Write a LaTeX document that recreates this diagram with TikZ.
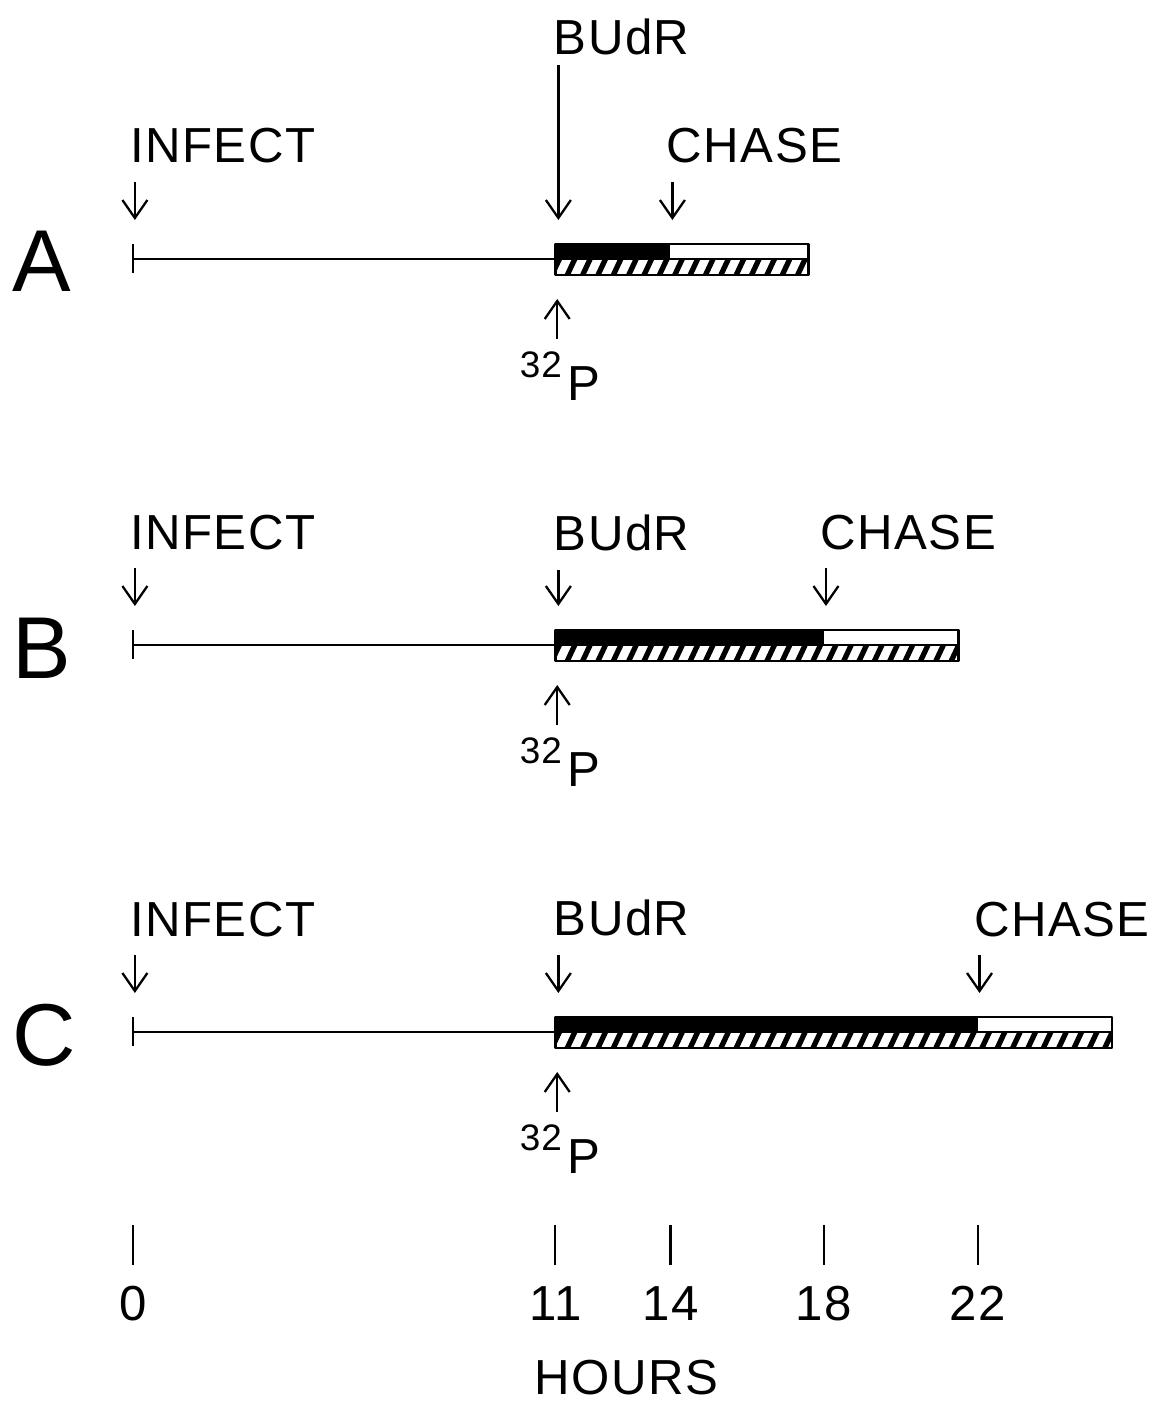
\documentclass[tikz,border=0pt]{standalone}
\usepackage{fontspec}
\setmainfont{Liberation Sans}
\newfontfamily\lettering[LetterSpace=3]{Liberation Sans}
\usetikzlibrary{arrows.meta}

\tikzset{
  lbl/.style={font=\lettering\fontsize{28}{30}\selectfont, inner sep=0pt},
  panel/.style={font=\fontsize{50}{54}\selectfont, inner sep=0pt},
  arr/.style={-{Straight Barb[length=0.36cm,width=0.5cm]}, line width=1.3pt},
  axis/.style={line width=1.2pt},
  barline/.style={line width=1.6pt},
}

\begin{document}
\begin{tikzpicture}[x=0.768cm, y=-0.02cm, line join=round]
  \useasboundingbox (-3.4635,0) rectangle (26.6146,1405);

  % rows: y, letter, chase at, end of bar, BUdR label, BUdR arrow start
  \foreach \y/\p/\ch/\st/\bu/\ba in {259/A/14/17.6/204/194, 645/B/18/21.5/95/75, 1032/C/22/25.5/97/77} {
    \node[panel, anchor=base west] (row\p) at (-3.15,\y+33) {\p};

    % time line from infection to label
    \coordinate (t0\p) at (0,\y);
    \coordinate (bu\p) at (11,\y);
    \draw[axis] (0,\y-15) -- (0,\y+14);
    \draw[axis] (t0\p) -- (bu\p);

    % INFECT
    \node[lbl, anchor=base west] (inf\p) at (-0.08,\y-96) {INFECT};
    \coordinate (infs\p) at (0.05,\y-77);
    \coordinate (infe\p) at (0.05,\y-39);
    \draw[arr] (infs\p) -- (infe\p);

    % BUdR
    \node[lbl, anchor=base west] (budr\p) at (10.95,\y-\bu) {BUdR};
    \coordinate (buds\p) at (11.08,\y-\ba);
    \coordinate (bude\p) at (11.08,\y-39);
    \draw[arr] (buds\p) -- (bude\p);

    % CHASE
    \node[lbl, anchor=base west] (chase\p) at (\ch-0.1,\y-96) {CHASE};
    \coordinate (chs\p) at (\ch+0.05,\y-77);
    \coordinate (che\p) at (\ch+0.05,\y-39);
    \draw[arr] (chs\p) -- (che\p);

    % 32P
    \node[lbl, anchor=base west] (ph\p) at (11.3,\y+141)
      {\llap{\raisebox{0.46cm}{\fontsize{21}{22}\selectfont 32}\hspace{3pt}}P};
    \coordinate (phs\p) at (11.05,\y+80);
    \coordinate (phe\p) at (11.05,\y+40);
    \draw[arr] (phs\p) -- (phe\p);

    % labelled DNA: dense upper half, hatched lower half
    \fill (11,\y-15) rectangle (\ch,\y);
    \begin{scope}
      \clip (11,\y) rectangle (\st,\y+16);
      \foreach \k in {0,...,37}
        \draw[line width=3pt] (10.9+0.4*\k,\y+17) -- ++(0.22,-18);
    \end{scope}
    \draw[barline] (11,\y-15) rectangle (\st,\y+16);
    \draw[barline] (bu\p) -- (\st,\y);
  }

  % time axis
  \foreach \h in {0,11,14,18,22} {
    \draw[axis] (\h,1225) -- (\h,1265);
    \node[lbl, anchor=base] (h\h) at (\h,1320) {\h};
  }
  \node[lbl, anchor=base] (hours) at (12.86,1394) {HOURS};

\end{tikzpicture}
\end{document}
